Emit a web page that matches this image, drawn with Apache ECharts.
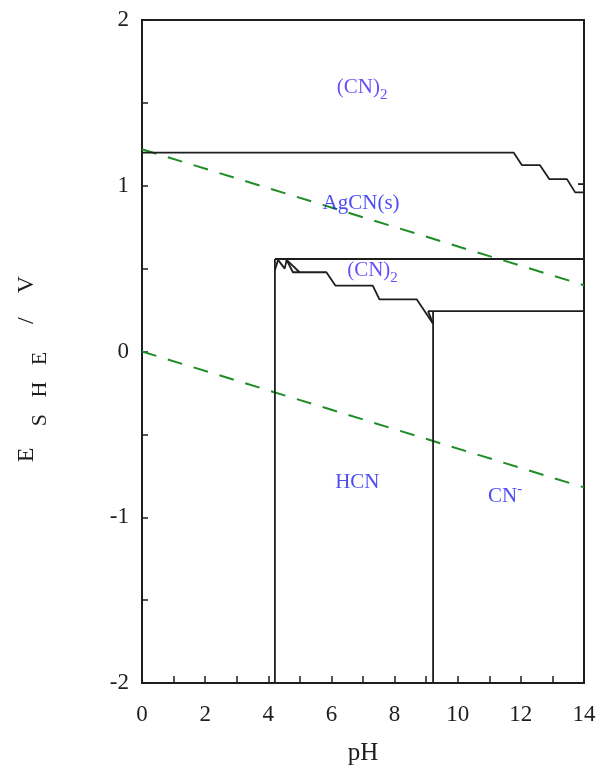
<!DOCTYPE html>
<html>
<head>
<meta charset="utf-8">
<title>Ag–CN–H2O Pourbaix diagram</title>
<script src="https://cdn.jsdelivr.net/npm/echarts@6.0.0/dist/echarts.min.js"></script>
<style>
  html, body { margin: 0; padding: 0; background: #fff; }
  #chart { width: 600px; height: 784px; }
</style>
</head>
<body>
<div id="chart"></div>
<script>
// ---- boundary lines: [pH, E (V vs SHE)] ----
// (CN)2 / AgCN(s) boundary
const cn2AgcnBoundary = [[0, 1.2], [11.77, 1.2], [12.03, 1.125], [12.6, 1.125], [12.9, 1.04], [13.46, 1.04], [13.72, 0.96], [14, 0.96]];
// (CN)2 lower region top edge and left edge
const innerTop = [[4.21, 0.558], [14, 0.558]];
const innerLeft = [[4.21, 0.558], [4.21, -2]];
// (CN)2 / HCN stepped boundary
const cn2HcnBoundary = [[4.21, 0.49], [4.31, 0.553], [4.52, 0.5], [4.58, 0.553], [4.78, 0.478], [5.84, 0.478], [6.13, 0.397], [7.31, 0.397], [7.52, 0.315], [8.7, 0.315], [9.22, 0.167]];
// HCN / CN- boundary and CN- upper edge
const hcnCnBoundary = [[9.22, 0.244], [9.22, -2]];
const cnTop = [[9.06, 0.244], [14, 0.244]];
// short connecting pieces
const pieceA = [[4.58, 0.553], [4.99, 0.478]];
const pieceB = [[9.06, 0.244], [9.22, 0.167]];
const pieceC = [[13.81, 1.01], [14, 1.01]];
// water stability lines
const o2Line = [[0, 1.22], [14, 0.4]];
const h2Line = [[0, 0], [14, -0.82]];

// ---- region labels: [pH, E, text] ----
const regionLabels = [
  [6.97, 1.59, '{v|(CN)}{sub|2}'],
  [6.94, 0.89, '{b|AgCN(s)}'],
  [7.3, 0.49, '{v|(CN)}{sub|2}'],
  [6.82, -0.79, '{b|HCN}'],
  [11.5, -0.875, '{b|CN}{sup|-}']
];

// ---- axes ----
const pHRange = [0, 14];
const eRange = [-2, 2];

const chart = echarts.init(document.getElementById('chart'), null, { renderer: 'canvas' });
const serif = '"Liberation Serif", "DejaVu Serif", serif';
const black = '#1e1e1e';

function solid(data) {
  return {
    type: 'line', data: data, symbol: 'none', silent: true, z: 3,
    lineStyle: { color: black, width: 1.8 }
  };
}
function dashed(data) {
  return {
    type: 'line', data: data, symbol: 'none', silent: true, z: 2,
    lineStyle: { color: '#1f8d26', width: 2, type: [15, 12] }
  };
}

chart.setOption({
  animation: false,
  backgroundColor: '#fff',
  grid: {
    left: 142, right: 16, top: 20, bottom: 101,
    show: true, borderColor: black, borderWidth: 2,
    containLabel: false, outerBoundsMode: 'none'
  },
  xAxis: {
    type: 'value', min: pHRange[0], max: pHRange[1], interval: 1,
    name: 'pH', nameLocation: 'middle', nameGap: 58,
    nameTextStyle: { fontFamily: serif, fontSize: 25, color: black },
    axisLine: { show: true, onZero: false, lineStyle: { color: black, width: 2 } },
    axisTick: { show: true, inside: true, length: 7, lineStyle: { color: black, width: 1.5 } },
    axisLabel: {
      fontFamily: serif, fontSize: 23, color: black, margin: 20,
      formatter: v => (v % 2 === 0 ? String(v) : '')
    },
    splitLine: { show: false }
  },
  yAxis: {
    type: 'value', min: eRange[0], max: eRange[1], interval: 0.5,
    axisLine: { show: true, onZero: false, lineStyle: { color: black, width: 2 } },
    axisTick: { show: true, inside: true, length: 6, lineStyle: { color: black, width: 1.5 } },
    axisLabel: {
      fontFamily: serif, fontSize: 23, color: black, margin: 13,
      formatter: v => (Number.isInteger(v) ? String(v) : '')
    },
    splitLine: { show: false }
  },
  graphic: [
    { type: 'text', x: 27, y: 455, rotation: Math.PI / 2,
      style: { text: 'E', font: '24px ' + serif, fill: black, align: 'center', verticalAlign: 'middle' } },
    { type: 'text', x: 40, y: 389, rotation: Math.PI / 2,
      style: { text: 'S\u00a0\u00a0\u00a0H\u00a0\u00a0\u00a0E', font: '22px ' + serif, fill: black, align: 'center', verticalAlign: 'middle' } },
    { type: 'text', x: 27, y: 300, rotation: Math.PI / 2,
      style: { text: '/\u00a0\u00a0\u00a0\u00a0V', font: '24px ' + serif, fill: black, align: 'center', verticalAlign: 'middle' } }
  ],
  series: [
    dashed(o2Line),
    dashed(h2Line),
    solid(cn2AgcnBoundary),
    solid(innerTop),
    solid(innerLeft),
    solid(cn2HcnBoundary),
    solid(hcnCnBoundary),
    solid(cnTop),
    solid(pieceA),
    solid(pieceB),
    solid(pieceC),
    {
      type: 'scatter', silent: true, z: 5,
      symbolSize: 1, itemStyle: { color: 'rgba(0,0,0,0)' },
      data: regionLabels.map(r => ({ value: [r[0], r[1]], text: r[2] })),
      label: {
        show: true, position: 'inside',
        formatter: p => p.data.text,
        rich: {
          v: { fontFamily: serif, fontSize: 21, lineHeight: 30, color: '#4a22f5', verticalAlign: 'middle' },
          b: { fontFamily: serif, fontSize: 21, lineHeight: 30, color: '#2020f2', verticalAlign: 'middle' },
          sub: { fontFamily: serif, fontSize: 15, lineHeight: 14, color: '#4a22f5', verticalAlign: 'bottom' },
          sup: { fontFamily: serif, fontSize: 15, lineHeight: 14, color: '#2020f2', verticalAlign: 'top' }
        }
      }
    }
  ]
});
</script>
</body>
</html>
